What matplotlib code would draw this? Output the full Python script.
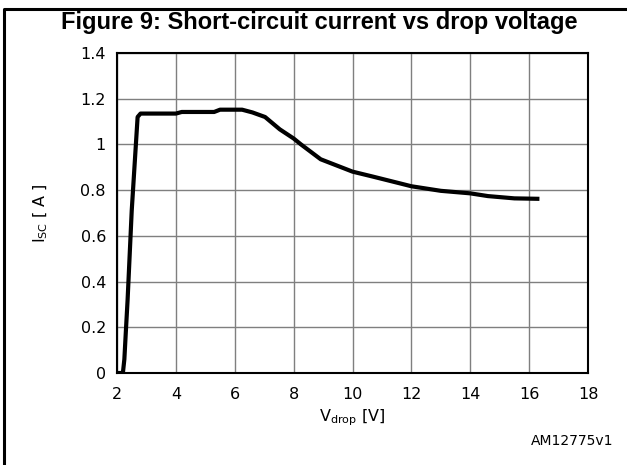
import matplotlib
matplotlib.use('Agg')
import matplotlib.pyplot as plt
from matplotlib.lines import Line2D

# Short-circuit current vs drop voltage
v_drop = [2.0, 2.2, 2.25, 2.3, 2.36, 2.5, 2.7, 2.8, 4.0, 4.2, 5.3, 5.5,
          6.25, 6.6, 7.03, 7.53, 8.0, 8.25, 8.92, 10.0, 10.7, 11.6, 12.0,
          13.0, 14.0, 14.6, 15.5, 16.35]
i_sc = [0.0, 0.0, 0.06, 0.18, 0.32, 0.71, 1.12, 1.135, 1.135, 1.142, 1.142,
        1.152, 1.152, 1.14, 1.12, 1.066, 1.026, 1.0, 0.935, 0.881, 0.859,
        0.83, 0.817, 0.797, 0.786, 0.774, 0.764, 0.762]

x_ticks = [2, 4, 6, 8, 10, 12, 14, 16, 18]
y_ticks = [0, 0.2, 0.4, 0.6, 0.8, 1.0, 1.2, 1.4]
y_labels = ['0', '0.2', '0.4', '0.6', '0.8', '1', '1.2', '1.4']

fig = plt.figure(figsize=(6.27, 4.65), dpi=100)
ax = fig.add_axes([117 / 627, 1 - 373 / 465, (588 - 117) / 627, (373 - 53) / 465])

ax.plot(v_drop, i_sc, color='black', lw=3, solid_joinstyle='round',
        solid_capstyle='butt', zorder=3)

ax.set_xlim(2, 18)
ax.set_ylim(0, 1.4)
ax.set_xticks(x_ticks)
ax.set_yticks(y_ticks)
ax.set_yticklabels(y_labels)
ax.tick_params(axis='y', length=0, labelsize=11.5, pad=8)
ax.tick_params(axis='x', length=0, labelsize=11.5, pad=10)
ax.grid(True, color='#7f7f7f', lw=1)
for s in ax.spines.values():
    s.set_linewidth(1.5)
    s.set_color('black')

ax.set_xlabel(r'V$_{\rm drop}$ [V]', fontsize=11.5, labelpad=4)
ax.set_ylabel(r'I$_{\rm SC}$ [ A ]', fontsize=11.5, labelpad=22)

fig.text(319 / 627, 1 - 22 / 465, 'Figure 9: Short-circuit current vs drop voltage',
         ha='center', va='center', fontsize=17, fontweight='bold',
         family='Liberation Sans')
fig.text(613 / 627, 1 - 441 / 465, 'AM12775v1', ha='right', va='center',
         fontsize=10)

# outer frame (top and left edges)
fig.add_artist(Line2D([4 / 627, 4 / 627, 1.0], [0.0, 1 - 9 / 465, 1 - 9 / 465],
                      color='black', lw=2.2, transform=fig.transFigure))

fig.savefig('out.png', dpi=100)
